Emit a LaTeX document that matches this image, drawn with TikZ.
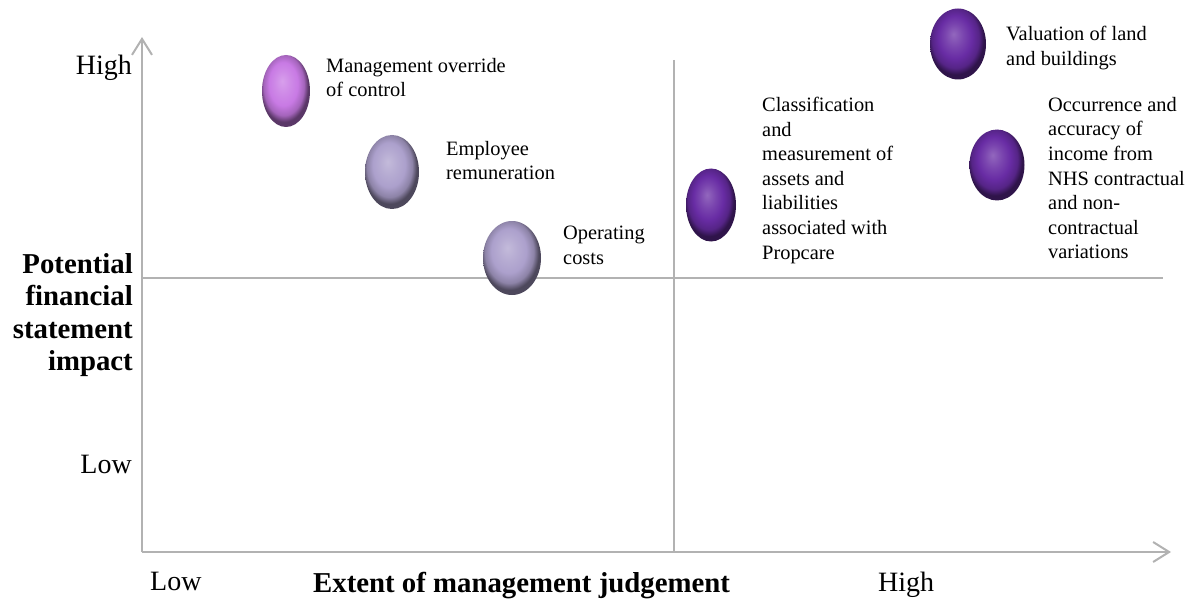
\documentclass[tikz,border=0pt]{standalone}
\usepackage{fontspec}
\setmainfont{Liberation Serif}
\usetikzlibrary{arrows.meta,shapes.geometric}

\definecolor{axisgray}{RGB}{178,178,178}
\definecolor{orchidbead}{RGB}{200,122,228}
\definecolor{lavenderbead}{RGB}{172,160,204}
\definecolor{violetbead}{RGB}{104,44,164}
\colorlet{beadc}{gray}
% glossy bead: soft light spot up-left, darker rim
\pgfdeclareradialshading[beadc]{bead}{\pgfpoint{-4bp}{7bp}}{%
  color(0bp)=(beadc!72!white); color(8bp)=(beadc!88!white);
  color(15bp)=(beadc); color(21bp)=(beadc!82!black);
  color(25bp)=(beadc!45!black); color(50bp)=(beadc!45!black)}

\tikzset{
  bead/.style={ellipse, inner sep=0pt, shading=bead, draw=none},
  bead color/.code={\colorlet{beadc}{#1}},
  lbl/.style={inner sep=0pt, anchor=north west, align=left,
              font=\fontsize{20.4}{24.6}\selectfont},
  axlbl/.style={inner sep=0pt, font=\fontsize{28}{33}\selectfont},
  axtitle/.style={inner sep=0pt, font=\fontsize{28.8}{32.6}\selectfont\bfseries},
  axisline/.style={draw=axisgray, line width=2pt},
  axisarrow/.style={axisline, -{Straight Barb[length=16pt,width=20pt]}}
}

\begin{document}
\begin{tikzpicture}[x=1pt, y=-1pt]
\useasboundingbox (0,0) rectangle (1195,599);

% axes and quadrant lines
\coordinate (origin) at (142,552);
\coordinate (ytop) at (142,37);
\coordinate (xend) at (1171,552);
\coordinate (vtop) at (674,60);
\coordinate (vbot) at (674,553);
\coordinate (hleft) at (142,278);
\coordinate (hright) at (1163,278);

\draw[axisline] (hleft) -- (hright);
\draw[axisline] (vtop) -- (vbot);
\draw[axisarrow] (origin) -- (ytop);
\draw[axisarrow] (origin) -- (xend);

% beads
\node[bead, bead color=orchidbead, minimum width=48pt, minimum height=72pt] (b1) at (286,91) {};
\node[bead, bead color=lavenderbead, minimum width=54pt, minimum height=74pt] (b2) at (392,172) {};
\node[bead, bead color=lavenderbead, minimum width=58pt, minimum height=74pt] (b3) at (512,258) {};
\node[bead, bead color=violetbead, minimum width=50pt, minimum height=73pt] (b4) at (711,205) {};
\node[bead, bead color=violetbead, minimum width=56pt, minimum height=71pt] (b5) at (958,44) {};
\node[bead, bead color=violetbead, minimum width=55pt, minimum height=71pt] (b6) at (997,165) {};

% bead labels
\node[lbl] (t1) at (326,58) {Management override\\of control};
\node[lbl] (t2) at (446,141) {Employee\\remuneration};
\node[lbl] (t3) at (563,226) {Operating\\costs};
\node[lbl] (t4) at (762,97) {Classification\\and\\measurement of\\assets and\\liabilities\\associated with\\Propcare};
\node[lbl] (t5) at (1006,26) {Valuation of land\\and buildings};
\node[lbl] (t6) at (1048,97) {Occurrence and\\accuracy of\\income from\\NHS contractual\\and non-\\contractual\\variations};

% axis labels
\node[axlbl, anchor=north east] (yhigh) at (132,55) {High};
\node[axlbl, anchor=north east] (ylow) at (132,455) {Low};
\node[axtitle, anchor=north east, align=right] (ytitle) at (133,253) {Potential\\financial\\statement\\impact};
\node[axlbl, anchor=north west] (xlow) at (150,572) {Low};
\node[axtitle, anchor=north west] (xtitle) at (313,572) {Extent of management judgement};
\node[axlbl, anchor=north west] (xhigh) at (878,572) {High};
\end{tikzpicture}
\end{document}
